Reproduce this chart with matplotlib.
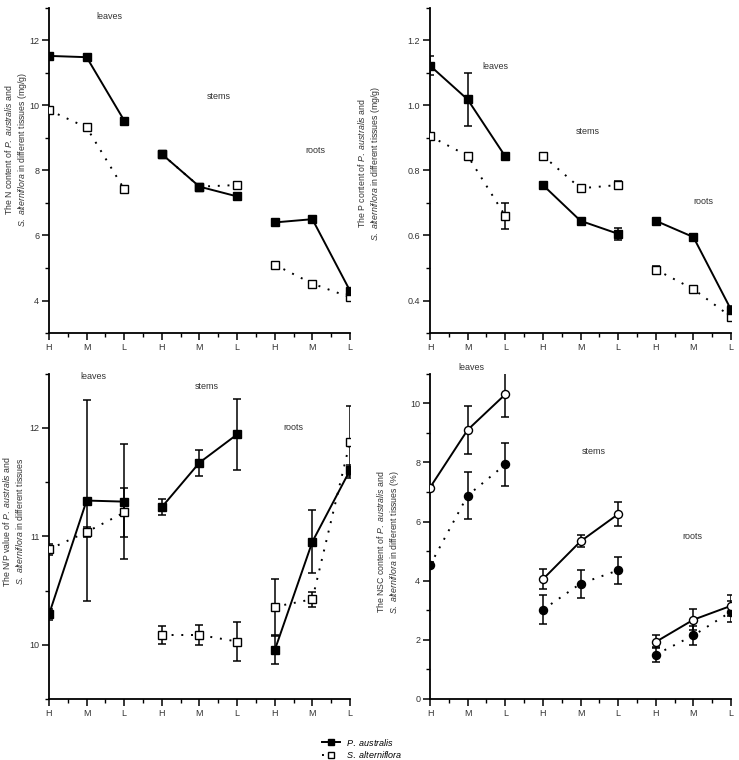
import matplotlib
matplotlib.use("Agg")
import matplotlib.pyplot as plt
from matplotlib.ticker import MultipleLocator, FormatStrFormatter
from matplotlib.lines import Line2D

plt.rcParams['font.family'] = ['Liberation Sans', 'DejaVu Sans']
plt.rcParams['mathtext.fontset'] = 'custom'
plt.rcParams['mathtext.rm'] = 'Liberation Sans'
plt.rcParams['mathtext.it'] = 'Liberation Sans:italic'

tick_labels = ["H", "M", "L", "H", "M", "L", "H", "M", "L"]
tissues = ["leaves", "stems", "roots"]

# N content (mg/g)
n_pa = [11.52, 11.48, 9.53, 8.50, 7.50, 7.20, 6.40, 6.50, 4.30]
n_pa_err = [0.06, 0.06, 0.08, 0.06, 0.06, 0.08, 0.05, 0.06, 0.06]
n_sa = [9.85, 9.32, 7.42, 8.50, 7.50, 7.55, 5.10, 4.52, 4.10]
n_sa_err = [0.05, 0.06, 0.06, 0.08, 0.08, 0.10, 0.08, 0.05, 0.06]

# P content (mg/g)
p_pa = [1.122, 1.018, 0.843, 0.755, 0.645, 0.605, 0.645, 0.595, 0.372]
p_pa_err = [0.030, 0.080, 0.006, 0.006, 0.006, 0.018, 0.006, 0.010, 0.010]
p_sa = [0.905, 0.845, 0.660, 0.845, 0.745, 0.755, 0.495, 0.435, 0.350]
p_sa_err = [0.006, 0.006, 0.040, 0.006, 0.008, 0.012, 0.012, 0.006, 0.010]

# N/P ratio
np_pa = [10.28, 11.33, 11.32, 11.27, 11.68, 11.94, 9.95, 10.95, 11.61]
np_pa_err = [0.05, 0.93, 0.53, 0.07, 0.12, 0.33, 0.13, 0.29, 0.05]
np_sa = [10.88, 11.04, 11.22, 10.09, 10.09, 10.03, 10.35, 10.42, 11.87]
np_sa_err = [0.05, 0.05, 0.23, 0.08, 0.09, 0.18, 0.26, 0.07, 0.33]

# NSC content (%)
nsc_solid = [7.15, 9.10, 10.30, 4.05, 5.33, 6.25, 1.93, 2.68, 3.15]
nsc_solid_err = [0.10, 0.80, 0.78, 0.33, 0.20, 0.40, 0.22, 0.35, 0.35]
nsc_dotted = [4.52, 6.88, 7.93, 3.02, 3.90, 4.35, 1.50, 2.15, 2.95]
nsc_dotted_err = [0.10, 0.80, 0.73, 0.48, 0.47, 0.45, 0.25, 0.33, 0.35]

series_names = [r"$\it{P.\ australis}$", r"$\it{S.\ alterniflora}$"]

ylabels = [
    "The N content of $\\it{P.\\ australis}$ and\n$\\it{S.\\ alterniflora}$ in different tissues (mg/g)",
    "The P content of $\\it{P.\\ australis}$ and\n$\\it{S.\\ alterniflora}$ in different tissues (mg/g)",
    "The N/P value of $\\it{P.\\ australis}$ and\n$\\it{S.\\ alterniflora}$ in different tissues",
    "The NSC content of $\\it{P.\\ australis}$ and\n$\\it{S.\\ alterniflora}$ in different tissues (%)",
]

fig = plt.figure(figsize=(7.39, 7.60), dpi=100)
W = 0.4073
H = 0.4280
pos = [
    [0.0663, 0.5618, W, H],
    [0.5819, 0.5618, W, H],
    [0.0663, 0.0803, W, H],
    [0.5819, 0.0803, W, H],
]
axes = [fig.add_axes(p) for p in pos]

x = list(range(9))
DOT = (0, (1, 4))


def draw(ax, ys, errs, ls, marker, filled, ms):
    face = 'black' if filled else 'white'
    ax.errorbar(x, ys, yerr=errs, fmt='none', ecolor='black', elinewidth=1.1,
                capsize=2.7, capthick=1.1, zorder=2)
    for g in range(3):
        sl = slice(3 * g, 3 * g + 3)
        ax.plot(x[sl], ys[sl], color='black', lw=1.4,
                linestyle=ls, zorder=1)
    ax.plot(x, ys, linestyle='none', marker=marker, ms=ms, mfc=face,
            mec='black', mew=1.0, zorder=3)


# Panel 1 N
draw(axes[0], n_sa, n_sa_err, DOT, 's', False, 5.2)
draw(axes[0], n_pa, n_pa_err, '-', 's', True, 5.2)
# Panel 2 P
draw(axes[1], p_sa, p_sa_err, DOT, 's', False, 5.2)
draw(axes[1], p_pa, p_pa_err, '-', 's', True, 5.2)
# Panel 3 N/P
draw(axes[2], np_sa, np_sa_err, DOT, 's', False, 5.2)
draw(axes[2], np_pa, np_pa_err, '-', 's', True, 5.2)
# Panel 4 NSC
draw(axes[3], nsc_dotted, nsc_dotted_err, DOT, 'o', True, 5.8)
draw(axes[3], nsc_solid, nsc_solid_err, '-', 'o', False, 5.8)

ylims = [(3, 13), (0.3, 1.3), (9.5, 12.5), (0, 11)]
minors = [1, 0.1, 0.5, 1]
fmts = ["%d", "%.1f", "%d", "%d"]
label_xy = [(-0.11, 0.563), (-0.203, 0.523), (-0.12, 0.546), (-0.14, 0.482)]
yticks = [[4, 6, 8, 10, 12], [0.4, 0.6, 0.8, 1.0, 1.2], [10, 11, 12],
          [0, 2, 4, 6, 8, 10]]

text_pos = [
    [(1.6, 12.73), (4.5, 10.27), (7.07, 8.6)],
    [(1.73, 1.12), (4.2, 0.92), (7.26, 0.705)],
    [(1.17, 12.47), (4.2, 12.38), (6.5, 12.0)],
    [(1.11, 11.2), (4.34, 8.37), (6.96, 5.48)],
]

for i, ax in enumerate(axes):
    ax.set_xlim(0, 8)
    ax.set_ylim(*ylims[i])
    ax.spines['top'].set_visible(False)
    ax.spines['right'].set_visible(False)
    ax.spines['left'].set_linewidth(1.3)
    ax.spines['bottom'].set_linewidth(1.3)
    ax.set_xticks(x)
    ax.set_xticklabels(tick_labels)
    ax.xaxis.set_minor_locator(MultipleLocator(0.5))
    ax.yaxis.set_minor_locator(MultipleLocator(minors[i]))
    ax.set_yticks(yticks[i])
    ax.yaxis.set_major_formatter(FormatStrFormatter(fmts[i]))
    ax.tick_params(axis='both', which='major', direction='out', length=5,
                   width=1.1, labelsize=6.5, pad=2, labelcolor='#333333')
    ax.tick_params(axis='both', which='minor', direction='out', length=3,
                   width=1.0)
    ax.set_ylabel(ylabels[i], fontsize=6.3, color='#333333', linespacing=1.15,
                  va='center')
    ax.yaxis.set_label_coords(*label_xy[i])
    for t, (tx, ty) in zip(tissues, text_pos[i]):
        ax.text(tx, ty, t, fontsize=6.5, ha='center', va='center',
                color='#333333')

handles = [
    Line2D([], [], color='black', lw=1.4, marker='s', ms=5, mfc='black', mec='black'),
    Line2D([], [], color='black', lw=1.4, linestyle=DOT, marker='s', ms=5,
           mfc='white', mec='black'),
]
fig.legend(handles, series_names, loc='center', bbox_to_anchor=(0.49, 0.0155),
           frameon=False, fontsize=6.5, handlelength=2.0, labelspacing=0.15,
           borderpad=0, handletextpad=0.6)

fig.savefig("out.png", dpi=100)
